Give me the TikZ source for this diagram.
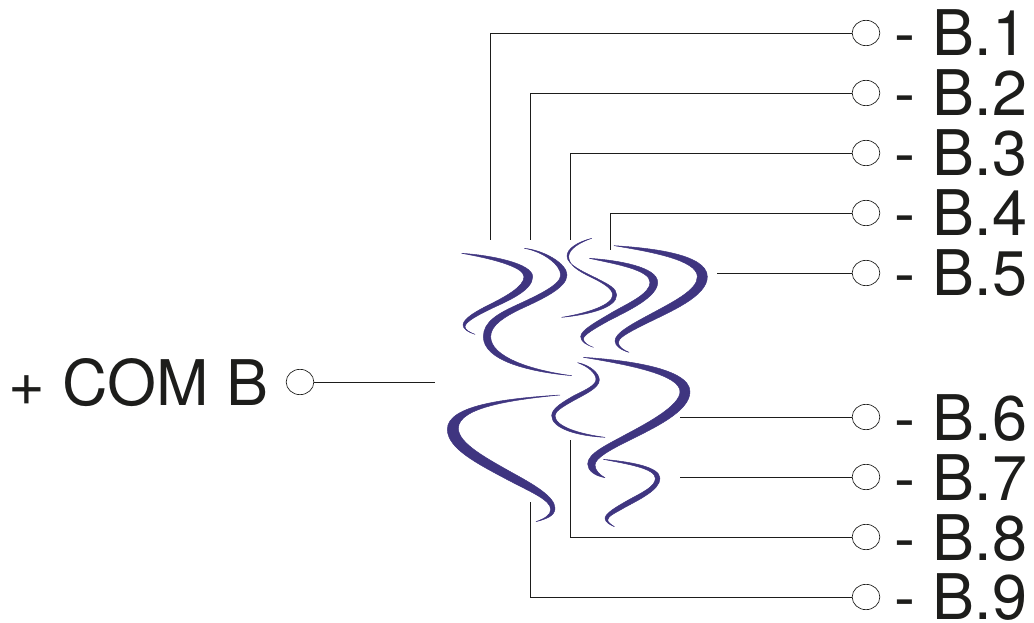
\documentclass[tikz,border=0pt]{standalone}
\usepackage{fontspec}
\setmainfont{TeX Gyre Heros}
\usetikzlibrary{shapes.geometric}
\definecolor{ribboncol}{HTML}{3F3580}
\definecolor{inkcol}{HTML}{1D1D1B}
\tikzset{
  ribbon/.style={fill=ribboncol,draw=ribboncol,line width=0.35pt,line join=round},
  terminal/.style={draw=inkcol,ellipse,line width=0.5pt,minimum width=20.75pt,minimum height=19pt,inner sep=0pt},
  wire/.style={draw=inkcol,line width=0.55pt},
  lbl/.style={anchor=base west,inner sep=0pt,outer sep=0pt,text=inkcol,font=\fontsize{47.2}{47.2}\selectfont}
}
\begin{document}
\begin{tikzpicture}[x=0.75pt,y=-0.75pt]
\useasboundingbox (0,0) rectangle (1034,623);
\begin{scope}[shift={(430,225)},x=0.25pt,y=-0.25pt]
\path[ribbon] (95,85) .. controls (180,90) and (308,115) .. (308,155) .. controls (308,195) and (240,225) .. (190,248) .. controls (150,267) and (105,290) .. (105,305) .. controls (105,315) and (120,322) .. (135,328) .. controls (115,322) and (99,312) .. (99,300) .. controls (99,280) and (145,255) .. (180,238) .. controls (225,215) and (282,185) .. (282,155) .. controls (282,125) and (180,100) .. (95,85) -- cycle;
\path[ribbon] (283,70) .. controls (340,75) and (411,115) .. (411,150) .. controls (411,190) and (330,225) .. (270,253) .. controls (225,275) and (182,300) .. (182,335) .. controls (182,395) and (300,435) .. (425,452) .. controls (290,440) and (160,405) .. (160,335) .. controls (160,290) and (205,265) .. (260,240) .. controls (320,212) and (392,180) .. (392,150) .. controls (392,120) and (340,80) .. (283,70) -- cycle;
\path[ribbon] (485,40) .. controls (445,50) and (411,70) .. (411,93) .. controls (411,120) and (460,140) .. (500,160) .. controls (535,178) and (560,190) .. (560,210) .. controls (560,250) and (470,270) .. (395,277) .. controls (470,265) and (548,240) .. (548,210) .. controls (548,190) and (515,172) .. (480,155) .. controls (445,138) and (416,120) .. (416,95) .. controls (416,72) and (450,52) .. (485,40) -- cycle;
\path[ribbon] (478,100) .. controls (560,105) and (683,125) .. (683,172) .. controls (683,215) and (600,255) .. (540,285) .. controls (495,310) and (460,330) .. (460,342) .. controls (460,352) and (475,362) .. (490,367) .. controls (470,360) and (452,350) .. (452,335) .. controls (452,315) and (500,290) .. (550,260) .. controls (600,232) and (660,205) .. (660,172) .. controls (660,135) and (560,118) .. (478,100) -- cycle;
\path[ribbon] (552,62) .. controls (650,68) and (832,85) .. (832,155) .. controls (832,215) and (720,260) .. (640,300) .. controls (590,325) and (565,340) .. (565,352) .. controls (565,365) and (580,375) .. (597,382) .. controls (572,375) and (555,362) .. (555,348) .. controls (555,325) and (600,300) .. (660,268) .. controls (730,230) and (802,195) .. (802,155) .. controls (802,105) and (660,80) .. (552,62) -- cycle;
\end{scope}
\begin{scope}[shift={(430,350)},x=0.25pt,y=-0.25pt]
\path[ribbon] (460,22) .. controls (560,28) and (780,50) .. (780,125) .. controls (780,185) and (670,235) .. (590,275) .. controls (540,300) and (495,325) .. (495,345) .. controls (495,362) and (510,375) .. (525,383) .. controls (495,378) and (473,362) .. (473,342) .. controls (473,310) and (530,285) .. (590,252) .. controls (660,215) and (750,165) .. (750,125) .. controls (750,75) and (600,45) .. (460,22) -- cycle;
\path[ribbon] (520,328) .. controls (600,335) and (690,350) .. (690,385) .. controls (690,420) and (625,450) .. (585,472) .. controls (560,487) and (533,498) .. (533,510) .. controls (533,517) and (543,523) .. (553,530) .. controls (538,524) and (525,515) .. (525,505) .. controls (525,490) and (560,470) .. (595,450) .. controls (635,428) and (676,410) .. (676,385) .. controls (676,355) and (590,342) .. (520,328) -- cycle;
\path[ribbon] (443,38) .. controls (480,45) and (508,70) .. (508,90) .. controls (508,115) and (460,135) .. (425,155) .. controls (395,172) and (375,185) .. (375,197) .. controls (375,230) and (450,252) .. (525,262) .. controls (440,258) and (365,235) .. (365,197) .. controls (365,175) and (400,155) .. (435,135) .. controls (470,118) and (498,105) .. (498,88) .. controls (498,70) and (475,50) .. (443,38) -- cycle;
\path[ribbon] (390,135) .. controls (260,148) and (85,170) .. (85,235) .. controls (85,280) and (170,325) .. (250,370) .. controls (310,403) and (375,440) .. (375,475) .. controls (375,497) and (350,507) .. (318,515) .. controls (345,505) and (362,495) .. (362,478) .. controls (362,450) and (300,425) .. (230,388) .. controls (140,340) and (52,295) .. (52,238) .. controls (52,165) and (230,145) .. (390,135) -- cycle;
\end{scope}
% terminals
\node[terminal] (t1) at (866,33) {};
\node[terminal] (t2) at (866,93) {};
\node[terminal] (t3) at (866,153) {};
\node[terminal] (t4) at (866,213) {};
\node[terminal] (t5) at (866,273) {};
\node[terminal] (t6) at (866,417) {};
\node[terminal] (t7) at (866,477) {};
\node[terminal] (t8) at (866,537) {};
\node[terminal] (t9) at (866,597) {};
\node[terminal] (tc) at (300,382) {};
% free ends
\coordinate (e1) at (490,240);
\coordinate (e2) at (530,240);
\coordinate (e3) at (570,240);
\coordinate (e4) at (610,250);
\coordinate (e5) at (717,273);
\coordinate (e6) at (680,417);
\coordinate (e7) at (680,477);
\coordinate (e8) at (570,440);
\coordinate (e9) at (530,502);
\coordinate (ec) at (435,382);
% connectors
\draw[wire] (e1) |- (t1.west);
\draw[wire] (e2) |- (t2.west);
\draw[wire] (e3) |- (t3.west);
\draw[wire] (e4) |- (t4.west);
\draw[wire] (e5) -- (t5.west);
\draw[wire] (e6) -- (t6.west);
\draw[wire] (e7) -- (t7.west);
\draw[wire] (e8) |- (t8.west);
\draw[wire] (e9) |- (t9.west);
\draw[wire] (tc.east) -- (ec);
% labels
\node[lbl] (l1) at (894.5,56) {- B.1};
\node[lbl] (l2) at (894.5,116) {- B.2};
\node[lbl] (l3) at (894.5,176) {- B.3};
\node[lbl] (l4) at (894.5,236) {- B.4};
\node[lbl] (l5) at (894.5,296) {- B.5};
\node[lbl] (l6) at (894.5,440) {- B.6};
\node[lbl] (l7) at (894.5,500) {- B.7};
\node[lbl] (l8) at (894.5,560) {- B.8};
\node[lbl] (l9) at (894.5,619) {- B.9};
\node[lbl] (lc) at (8.5,405.5) {+ COM B};
\end{tikzpicture}
\end{document}
